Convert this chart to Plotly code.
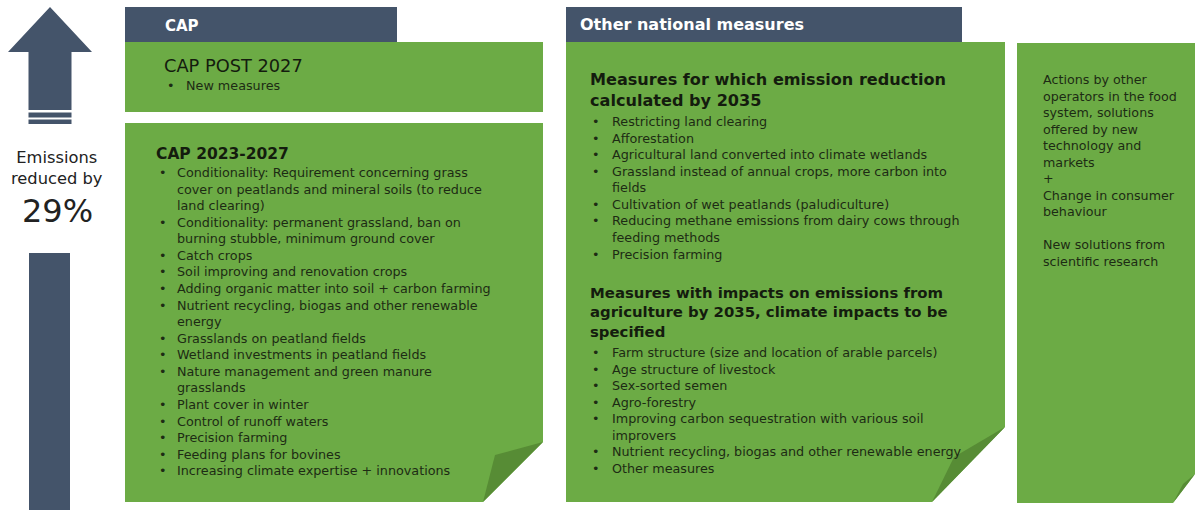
import plotly.graph_objects as go

W, H = 1195, 510
GREEN = "#6cab45"
FOLD = "#578c35"
SLATE = "#44546a"
TEXT = "#1d2b14"
HEAD = "#141c0e"
FONT = "DejaVu Sans"
BFONT = "DejaVu Sans"

# ---------------- content ----------------
header_cap = "CAP"
header_other = "Other national measures"
side_label = ["Emissions", "reduced by"]
reduction_pct = 29

cap_post_title = "CAP POST 2027"
cap_post_items = [["New measures"]]

cap_now_title = "CAP 2023-2027"
cap_now_items = [
    ["Conditionality: Requirement concerning grass",
     "cover on peatlands and mineral soils (to reduce",
     "land clearing)"],
    ["Conditionality: permanent grassland, ban on",
     "burning stubble, minimum ground cover"],
    ["Catch crops"],
    ["Soil improving and renovation crops"],
    ["Adding organic matter into soil + carbon farming"],
    ["Nutrient recycling, biogas and other renewable", "energy"],
    ["Grasslands on peatland fields"],
    ["Wetland investments in peatland fields"],
    ["Nature management and green manure", "grasslands"],
    ["Plant cover in winter"],
    ["Control of runoff waters"],
    ["Precision farming"],
    ["Feeding plans for bovines"],
    ["Increasing climate expertise + innovations"],
]

calc_title = ["Measures for which emission reduction", "calculated by 2035"]
calc_items = [
    ["Restricting land clearing"],
    ["Afforestation"],
    ["Agricultural land converted into climate wetlands"],
    ["Grassland instead of annual crops, more carbon into", "fields"],
    ["Cultivation of wet peatlands (paludiculture)"],
    ["Reducing methane emissions from dairy cows through", "feeding methods"],
    ["Precision farming"],
]

impact_title = ["Measures with impacts on emissions from",
                "agriculture by 2035, climate impacts to be",
                "specified"]
impact_items = [
    ["Farm structure (size and location of arable parcels)"],
    ["Age structure of livestock"],
    ["Sex-sorted semen"],
    ["Agro-forestry"],
    ["Improving carbon sequestration with various soil", "improvers"],
    ["Nutrient recycling, biogas and other renewable energy"],
    ["Other measures"],
]

other_lines = ["Actions by other", "operators in the food", "system, solutions",
               "offered by new", "technology and", "markets", "+",
               "Change in consumer", "behaviour", "",
               "New solutions from", "scientific research"]

# ---------------- figure ----------------
fig = go.Figure()
shapes = []
annots = []

BODY = 12.75          # Plotly line spacing = 1.3 * size -> ~16.6 px
NBSP = "\u00a0"


def poly(pts, color):
    d = "M " + " L ".join(f"{x} {y}" for x, y in pts) + " Z"
    shapes.append(dict(type="path", path=d, fillcolor=color,
                       line=dict(width=0), layer="below"))


def rect(x0, y0, x1, y1, color):
    shapes.append(dict(type="rect", x0=x0, y0=y0, x1=x1, y1=y1,
                       fillcolor=color, line=dict(width=0), layer="below"))


def text_block(x, y_first, lines, size=BODY, color=TEXT, family=FONT,
               anchor="left"):
    """Multi-line text; y_first = centre of the first line."""
    step = 1.3 * size
    n = len(lines)
    yc = y_first + (n - 1) * step / 2
    f = dict(family=family, size=size, color=color)
    s = "<br>".join(l if l else NBSP for l in lines)
    annots.append(dict(x=x, y=yc, xref="x", yref="y", text=s, showarrow=False,
                       xanchor=anchor, yanchor="middle", align=anchor,
                       font=f, borderpad=0))


def bullets(items, xb, xt, y0, size=BODY):
    dots, lines = [], []
    for item in items:
        for j, line in enumerate(item):
            dots.append("•" if j == 0 else NBSP)
            lines.append(line)
    text_block(xb, y0, dots, size=size)
    text_block(xt, y0, lines, size=size)


# arrow
poly([(50, 7), (92, 52), (71.5, 52), (71.5, 110), (28.5, 110), (28.5, 52), (8, 52)], SLATE)
rect(28.5, 112.5, 71.5, 117.5, SLATE)
rect(28.5, 119.5, 71.5, 124, SLATE)
rect(29, 253, 70, 510, SLATE)

# side text
text_block(57, 157, side_label, size=16.3, color="#222222", anchor="center")
text_block(57, 211, [f"{reduction_pct}%"], size=32, color="#222222", anchor="center")

# CAP column
rect(125, 7, 397, 43, SLATE)
text_block(164, 26, [f"<b>{header_cap}</b>"], size=15, color="white", family=BFONT)
rect(125, 42, 543, 112, GREEN)
text_block(163, 65, [cap_post_title], size=17.8, color=HEAD)
bullets(cap_post_items, 166, 185, 85.5)

poly([(125, 123), (543, 123), (543, 442), (483, 502), (125, 502)], GREEN)
poly([(543, 442), (495, 455), (483, 502)], FOLD)
text_block(155, 154, [f"<b>{cap_now_title}</b>"], size=15.5, color=HEAD, family=BFONT)
bullets(cap_now_items, 158, 176, 172.5)

# Other national measures column
rect(566, 7, 962, 42, SLATE)
text_block(579, 24, [f"<b>{header_other}</b>"], size=16, color="white", family=BFONT)
poly([(566, 42), (1005, 42), (1005, 427), (932, 502), (566, 502)], GREEN)
poly([(1005, 427), (954, 457), (932, 502)], FOLD)
text_block(589, 80, [f"<b>{l}</b>" for l in calc_title], size=16.1,
           color=HEAD, family=BFONT)
bullets(calc_items, 591, 611, 122)
text_block(589, 293, [f"<b>{l}</b>" for l in impact_title], size=14.9,
           color=HEAD, family=BFONT)
bullets(impact_items, 591, 611, 352)

# right column
poly([(1017, 43), (1195, 43), (1195, 474), (1173, 503), (1017, 503)], GREEN)
poly([(1195, 474), (1183, 484), (1173, 503)], FOLD)
text_block(1042, 80, other_lines, size=12.7)

fig.update_layout(
    width=W, height=H, autosize=False,
    margin=dict(l=0, r=0, t=0, b=0, pad=0),
    paper_bgcolor="white", plot_bgcolor="white",
    xaxis=dict(range=[0, W], visible=False, fixedrange=True),
    yaxis=dict(range=[H, 0], visible=False, fixedrange=True),
    shapes=shapes, annotations=annots, showlegend=False,
)
fig.write_html(
    "out.html",
    config={"displayModeBar": False},
    post_script="document.body.style.margin='0';document.body.style.overflow='hidden';",
)
